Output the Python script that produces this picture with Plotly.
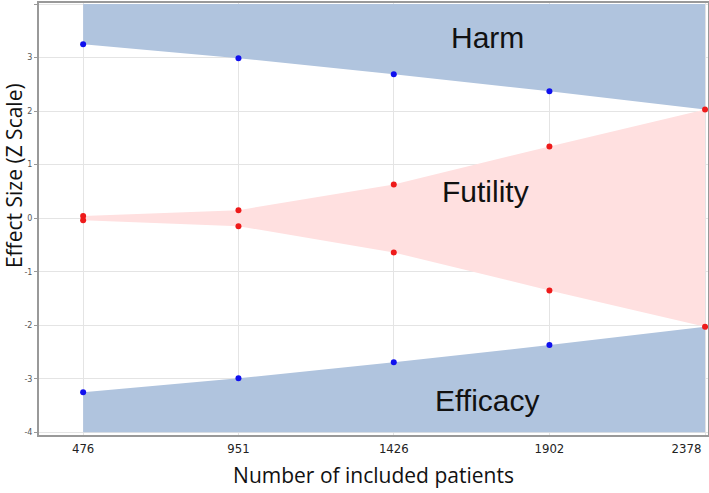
import plotly.graph_objects as go

patients = [476, 951, 1426, 1902, 2378]
harm_bound = [3.25, 2.99, 2.69, 2.37, 2.03]
efficacy_bound = [-3.25, -2.99, -2.69, -2.37, -2.03]
futility_upper = [0.04, 0.15, 0.63, 1.34, 2.03]
futility_lower = [-0.04, -0.15, -0.64, -1.35, -2.03]
y_ticks = [-4, -3, -2, -1, 0, 1, 2, 3, 4]
y_tick_labels = ["-4", "-3", "-2", "-1", "0", "1", "2", "3", "4"]
x_ticks = patients
x_tick_labels = ["476", "951", "1426", "1902", "2378" + "\u00a0" * 10]

BLUE_FILL = "#b0c4de"
PINK_FILL = "#ffe0e0"
y_top, y_bot = 4, -4

fig = go.Figure()
# Harm region
fig.add_trace(go.Scatter(
    x=patients + patients[::-1],
    y=harm_bound + [y_top] * len(patients),
    fill="toself", fillcolor=BLUE_FILL, line=dict(width=0),
    mode="lines", hoverinfo="skip", showlegend=False))
# Efficacy region
fig.add_trace(go.Scatter(
    x=patients + patients[::-1],
    y=efficacy_bound + [y_bot] * len(patients),
    fill="toself", fillcolor=BLUE_FILL, line=dict(width=0),
    mode="lines", hoverinfo="skip", showlegend=False))
# Futility region
fig.add_trace(go.Scatter(
    x=patients + patients[::-1],
    y=futility_upper + futility_lower[::-1],
    fill="toself", fillcolor=PINK_FILL, line=dict(width=0),
    mode="lines", hoverinfo="skip", showlegend=False))
# Blue boundary points
fig.add_trace(go.Scatter(
    x=patients[:-1] + patients[:-1],
    y=harm_bound[:-1] + efficacy_bound[:-1],
    mode="markers", marker=dict(color="#1010ee", size=6),
    showlegend=False))
# Red futility points
fig.add_trace(go.Scatter(
    x=patients + patients,
    y=futility_upper + futility_lower,
    mode="markers", marker=dict(color="#ee1a1a", size=6),
    showlegend=False))

label_font = dict(family="Liberation Sans, Arial", size=30, color="#111111")
fig.add_annotation(x=1712, y=3.38, text="Harm", showarrow=False, font=label_font)
fig.add_annotation(x=1708, y=0.49, text="Futility", showarrow=False, font=label_font)
fig.add_annotation(x=1712, y=-3.40, text="Efficacy", showarrow=False, font=label_font)

# Y-axis title (placed as in the reference, above the plot's centre)
fig.add_annotation(xref="paper", yref="paper", x=-0.037, y=0.6,
                   xanchor="center", yanchor="middle", textangle=-90,
                   text="Effect Size (Z Scale)", showarrow=False,
                   font=dict(family="Open Sans", size=21, color="#111111"))

fig.update_layout(
    width=709, height=493,
    margin=dict(l=39, r=1, t=3, b=58),
    paper_bgcolor="white", plot_bgcolor="white",
    font=dict(family="Open Sans"),
)
fig.update_xaxes(
    range=[341, 2387], tickvals=x_ticks, ticktext=x_tick_labels,
    tickfont=dict(family="DejaVu Sans Condensed, Open Sans", size=13, color="#222222"),
    showgrid=True, gridcolor="#e4e4e4", gridwidth=1,
    showline=True, linecolor="#999999", linewidth=2, mirror=True,
    ticks="", zeroline=False, automargin=False, ticklabeloverflow="allow",
    title=dict(text="Number of included patients",
               font=dict(family="Open Sans", size=21, color="#111111"), standoff=14),
)
fig.update_yaxes(
    range=[-4.05, 4.02], tickvals=y_ticks, ticktext=y_tick_labels,
    tickfont=dict(family="DejaVu Sans", size=8, color="#555555"),
    showgrid=True, gridcolor="#e4e4e4", gridwidth=1,
    showline=True, linecolor="#999999", linewidth=2, mirror=True,
    ticks="outside", ticklen=3, tickcolor="#999999", zeroline=False,
    automargin=False,
)

fig.write_html(
    "out.html",
    config={"displayModeBar": False},
    post_script="document.body.style.margin='0';document.body.style.overflow='hidden';",
)
